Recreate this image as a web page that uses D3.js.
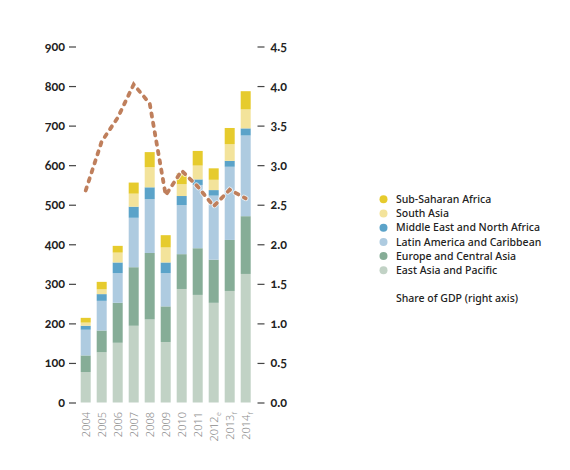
<!DOCTYPE html>
<html>
<head>
<meta charset="utf-8">
<script src="https://cdn.jsdelivr.net/npm/d3@7"></script>
<style>
  html, body { margin: 0; padding: 0; background: #fff; }
  svg text { font-family: "Noto Sans", "Open Sans", sans-serif; }
  .num { font-family: Lato, "Noto Sans", sans-serif; font-variant-numeric: oldstyle-nums; font-feature-settings: "onum" 1; }
</style>
</head>
<body>
<svg id="chart" width="570" height="470"></svg>
<script>
// Years and projection marks
const years = ["2004", "2005", "2006", "2007", "2008", "2009", "2010", "2011", "2012", "2013", "2014"];
const yearMarks = ["", "", "", "", "", "", "", "", "e", "f", "f"];

// Regional series, US$ billions (stacked bottom to top)
const eastAsiaPacific   = [77, 127, 151, 194, 210, 153, 287, 272, 252, 282, 325];
const europeCentralAsia = [42, 55, 101, 148, 168, 90, 88, 118, 109, 129, 146];
const latinAmerica      = [65, 75, 75, 125, 136, 84, 124, 160, 162, 185, 204];
const middleEastNAfrica = [10, 17, 27, 28, 30, 27, 23, 14, 14, 15, 18];
const southAsia         = [8, 12, 25, 33, 51, 38, 30, 35, 26, 42, 48];
const subSaharanAfrica  = [12, 19, 17, 28, 38, 31, 28, 37, 29, 41, 46];

// Share of GDP, percent (right axis)
const shareOfGDP = [2.68, 3.30, 3.60, 4.02, 3.78, 2.62, 2.93, 2.73, 2.48, 2.69, 2.58];

// Axis ticks
const leftTicks = [0, 100, 200, 300, 400, 500, 600, 700, 800, 900];
const rightTicks = [0, 0.5, 1.0, 1.5, 2.0, 2.5, 3.0, 3.5, 4.0, 4.5];

const seriesNames = ["East Asia and Pacific", "Europe and Central Asia", "Latin America and Caribbean",
                     "Middle East and North Africa", "South Asia", "Sub-Saharan Africa"];
const seriesValues = [eastAsiaPacific, europeCentralAsia, latinAmerica, middleEastNAfrica, southAsia, subSaharanAfrica];
const seriesColors = ["#c1d2c5", "#86ad97", "#aecbe0", "#5ba3c9", "#f3e39b", "#e6cb2d"];

const svg = d3.select("#chart");

const x = d3.scaleBand().domain(years).range([77.7, 253.7])
  .paddingInner(0.375).paddingOuter(0.1875);
const y = d3.scaleLinear().domain([0, 900]).range([402.5, 46.5]);
const y2 = d3.scaleLinear().domain([0, 4.5]).range([402.5, 46.5]);

// Build stack table
const table = years.map((yr, i) => {
  const row = { year: yr };
  seriesNames.forEach((n, k) => { row[n] = seriesValues[k][i]; });
  return row;
});
const stacked = d3.stack().keys(seriesNames)(table);

// Bars
svg.append("g").selectAll("g")
  .data(stacked)
  .join("g")
  .attr("fill", (d, k) => seriesColors[k])
  .selectAll("rect")
  .data(d => d)
  .join("rect")
  .attr("x", d => x(d.data.year))
  .attr("width", x.bandwidth())
  .attr("y", d => y(d[1]))
  .attr("height", d => y(d[0]) - y(d[1]));

// Left axis
const leftAxis = d3.axisLeft(y).tickValues(leftTicks).tickSize(7).tickPadding(4).tickFormat(d3.format("d"));
const gl = svg.append("g").attr("transform", "translate(76,0)").call(leftAxis);
gl.select(".domain").remove();
gl.selectAll(".tick line").attr("stroke", "#444").attr("stroke-width", 1.2);
gl.selectAll(".tick text").attr("class", "num")
  .attr("fill", "#222").attr("font-size", 12.5).attr("font-weight", 700);

// Right axis
const rightAxis = d3.axisRight(y2).tickValues(rightTicks).tickSize(7).tickPadding(6).tickFormat(d3.format(".1f"));
const gr = svg.append("g").attr("transform", "translate(257.5,0)").call(rightAxis);
gr.select(".domain").remove();
gr.selectAll(".tick line").attr("stroke", "#444").attr("stroke-width", 1.2);
gr.selectAll(".tick text").attr("class", "num")
  .attr("fill", "#222").attr("font-size", 12.5).attr("font-weight", 700);

// Year labels, rotated
const xl = svg.append("g").selectAll("text")
  .data(years)
  .join("text")
  .attr("transform", d => `translate(${x(d) + x.bandwidth() / 2 + 4},412) rotate(-90)`)
  .attr("text-anchor", "end")
  .attr("fill", "#8d8d8d")
  .attr("font-size", 11)
  .attr("font-weight", 300);
xl.append("tspan").text(d => d);
xl.append("tspan")
  .attr("font-size", 7)
  .attr("dy", 3)
  .attr("dx", 0.5)
  .text((d, i) => yearMarks[i]);

// Share of GDP line
const line = d3.line()
  .x((d, i) => x(years[i]) + x.bandwidth() / 2)
  .y(d => y2(d))
  .curve(d3.curveLinear);

svg.append("path")
  .datum(shareOfGDP)
  .attr("d", line)
  .attr("fill", "none")
  .attr("stroke", "#fff")
  .attr("stroke-opacity", 0.7)
  .attr("stroke-width", 5.5)
  .attr("stroke-linecap", "round")
  .attr("stroke-dasharray", "3.3 6.2");

svg.append("path")
  .datum(shareOfGDP)
  .attr("d", line)
  .attr("fill", "none")
  .attr("stroke", "#bf7f5c")
  .attr("stroke-width", 3.8)
  .attr("stroke-linecap", "round")
  .attr("stroke-dasharray", "3.3 6.2");

// Legend (top to bottom: reverse of stack order)
const legendOrder = seriesNames.map((n, k) => ({ name: n, color: seriesColors[k] })).reverse();
const lg = svg.append("g");
const ly = d3.scaleLinear().domain([0, 5]).range([199.3, 270.3]);
lg.selectAll("circle")
  .data(legendOrder)
  .join("circle")
  .attr("cx", 383.5)
  .attr("cy", (d, i) => ly(i))
  .attr("r", 4)
  .attr("fill", d => d.color);
lg.selectAll("text")
  .data(legendOrder)
  .join("text")
  .attr("x", 396)
  .attr("y", (d, i) => ly(i))
  .attr("dy", "0.35em")
  .attr("fill", "#222")
  .attr("font-size", 10.5)
  .attr("font-weight", 500)
  .text(d => d.name);

svg.append("text")
  .attr("x", 396)
  .attr("y", 298.5)
  .attr("dy", "0.35em")
  .attr("fill", "#222")
  .attr("font-size", 10.5)
  .attr("font-weight", 500)
  .text("Share of GDP (right axis)");
</script>
</body>
</html>
